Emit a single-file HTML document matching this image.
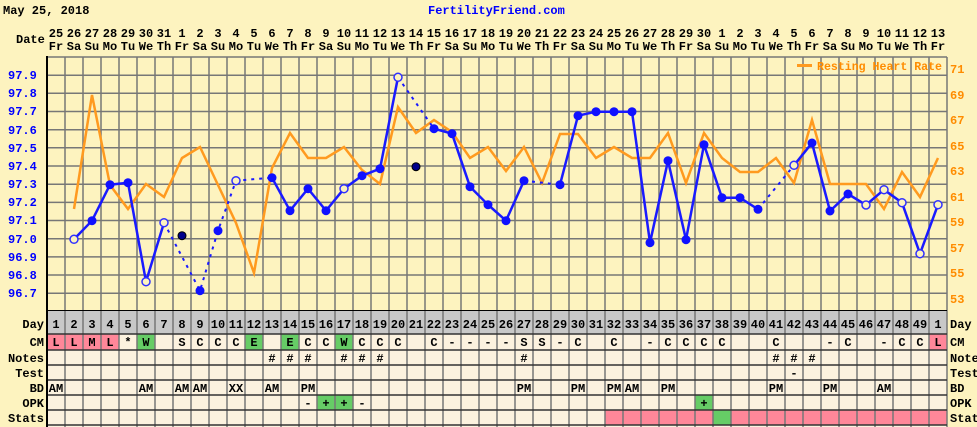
<!DOCTYPE html>
<html><head><meta charset="utf-8"><style>
html,body{margin:0;padding:0;background:#fdf3bf;}
svg{display:block;}
text{font-family:"Liberation Mono",monospace;font-weight:bold;font-size:12px;}
</style></head><body>
<svg width="977" height="427" viewBox="0 0 977 427" xmlns="http://www.w3.org/2000/svg">
<rect width="977" height="427" fill="#fdf3bf"/>
<text x="3" y="14" fill="#000">May 25, 2018</text>
<text x="428" y="14" fill="#0000ff">FertilityFriend.com</text>
<text x="16" y="43" fill="#000">Date</text>
<g fill="#000" text-anchor="middle">
<text x="56" y="37">25</text><text x="74" y="37">26</text><text x="92" y="37">27</text><text x="110" y="37">28</text><text x="128" y="37">29</text><text x="146" y="37">30</text><text x="164" y="37">31</text><text x="182" y="37">1</text><text x="200" y="37">2</text><text x="218" y="37">3</text><text x="236" y="37">4</text><text x="254" y="37">5</text><text x="272" y="37">6</text><text x="290" y="37">7</text><text x="308" y="37">8</text><text x="326" y="37">9</text><text x="344" y="37">10</text><text x="362" y="37">11</text><text x="380" y="37">12</text><text x="398" y="37">13</text><text x="416" y="37">14</text><text x="434" y="37">15</text><text x="452" y="37">16</text><text x="470" y="37">17</text><text x="488" y="37">18</text><text x="506" y="37">19</text><text x="524" y="37">20</text><text x="542" y="37">21</text><text x="560" y="37">22</text><text x="578" y="37">23</text><text x="596" y="37">24</text><text x="614" y="37">25</text><text x="632" y="37">26</text><text x="650" y="37">27</text><text x="668" y="37">28</text><text x="686" y="37">29</text><text x="704" y="37">30</text><text x="722" y="37">1</text><text x="740" y="37">2</text><text x="758" y="37">3</text><text x="776" y="37">4</text><text x="794" y="37">5</text><text x="812" y="37">6</text><text x="830" y="37">7</text><text x="848" y="37">8</text><text x="866" y="37">9</text><text x="884" y="37">10</text><text x="902" y="37">11</text><text x="920" y="37">12</text><text x="938" y="37">13</text>
<text x="56" y="50">Fr</text><text x="74" y="50">Sa</text><text x="92" y="50">Su</text><text x="110" y="50">Mo</text><text x="128" y="50">Tu</text><text x="146" y="50">We</text><text x="164" y="50">Th</text><text x="182" y="50">Fr</text><text x="200" y="50">Sa</text><text x="218" y="50">Su</text><text x="236" y="50">Mo</text><text x="254" y="50">Tu</text><text x="272" y="50">We</text><text x="290" y="50">Th</text><text x="308" y="50">Fr</text><text x="326" y="50">Sa</text><text x="344" y="50">Su</text><text x="362" y="50">Mo</text><text x="380" y="50">Tu</text><text x="398" y="50">We</text><text x="416" y="50">Th</text><text x="434" y="50">Fr</text><text x="452" y="50">Sa</text><text x="470" y="50">Su</text><text x="488" y="50">Mo</text><text x="506" y="50">Tu</text><text x="524" y="50">We</text><text x="542" y="50">Th</text><text x="560" y="50">Fr</text><text x="578" y="50">Sa</text><text x="596" y="50">Su</text><text x="614" y="50">Mo</text><text x="632" y="50">Tu</text><text x="650" y="50">We</text><text x="668" y="50">Th</text><text x="686" y="50">Fr</text><text x="704" y="50">Sa</text><text x="722" y="50">Su</text><text x="740" y="50">Mo</text><text x="758" y="50">Tu</text><text x="776" y="50">We</text><text x="794" y="50">Th</text><text x="812" y="50">Fr</text><text x="830" y="50">Sa</text><text x="848" y="50">Su</text><text x="866" y="50">Mo</text><text x="884" y="50">Tu</text><text x="902" y="50">We</text><text x="920" y="50">Th</text><text x="938" y="50">Fr</text>
</g>
<!-- grid -->
<g stroke="#777" stroke-width="1.5">
<line x1="47" y1="57" x2="947" y2="57"/><line x1="47" y1="75.2" x2="947" y2="75.2"/><line x1="47" y1="93.3" x2="947" y2="93.3"/><line x1="47" y1="111.5" x2="947" y2="111.5"/><line x1="47" y1="129.7" x2="947" y2="129.7"/><line x1="47" y1="147.8" x2="947" y2="147.8"/><line x1="47" y1="166" x2="947" y2="166"/><line x1="47" y1="184.2" x2="947" y2="184.2"/><line x1="47" y1="202.4" x2="947" y2="202.4"/><line x1="47" y1="220.5" x2="947" y2="220.5"/><line x1="47" y1="238.7" x2="947" y2="238.7"/><line x1="47" y1="256.9" x2="947" y2="256.9"/><line x1="47" y1="275" x2="947" y2="275"/><line x1="47" y1="293.2" x2="947" y2="293.2"/>
<line x1="65" y1="57" x2="65" y2="311"/><line x1="83" y1="57" x2="83" y2="311"/><line x1="101" y1="57" x2="101" y2="311"/><line x1="119" y1="57" x2="119" y2="311"/><line x1="137" y1="57" x2="137" y2="311"/><line x1="155" y1="57" x2="155" y2="311"/><line x1="173" y1="57" x2="173" y2="311"/><line x1="191" y1="57" x2="191" y2="311"/><line x1="209" y1="57" x2="209" y2="311"/><line x1="227" y1="57" x2="227" y2="311"/><line x1="245" y1="57" x2="245" y2="311"/><line x1="263" y1="57" x2="263" y2="311"/><line x1="281" y1="57" x2="281" y2="311"/><line x1="299" y1="57" x2="299" y2="311"/><line x1="317" y1="57" x2="317" y2="311"/><line x1="335" y1="57" x2="335" y2="311"/><line x1="353" y1="57" x2="353" y2="311"/><line x1="371" y1="57" x2="371" y2="311"/><line x1="389" y1="57" x2="389" y2="311"/><line x1="407" y1="57" x2="407" y2="311"/><line x1="425" y1="57" x2="425" y2="311"/><line x1="443" y1="57" x2="443" y2="311"/><line x1="461" y1="57" x2="461" y2="311"/><line x1="479" y1="57" x2="479" y2="311"/><line x1="497" y1="57" x2="497" y2="311"/><line x1="515" y1="57" x2="515" y2="311"/><line x1="533" y1="57" x2="533" y2="311"/><line x1="551" y1="57" x2="551" y2="311"/><line x1="569" y1="57" x2="569" y2="311"/><line x1="587" y1="57" x2="587" y2="311"/><line x1="605" y1="57" x2="605" y2="311"/><line x1="623" y1="57" x2="623" y2="311"/><line x1="641" y1="57" x2="641" y2="311"/><line x1="659" y1="57" x2="659" y2="311"/><line x1="677" y1="57" x2="677" y2="311"/><line x1="695" y1="57" x2="695" y2="311"/><line x1="713" y1="57" x2="713" y2="311"/><line x1="731" y1="57" x2="731" y2="311"/><line x1="749" y1="57" x2="749" y2="311"/><line x1="767" y1="57" x2="767" y2="311"/><line x1="785" y1="57" x2="785" y2="311"/><line x1="803" y1="57" x2="803" y2="311"/><line x1="821" y1="57" x2="821" y2="311"/><line x1="839" y1="57" x2="839" y2="311"/><line x1="857" y1="57" x2="857" y2="311"/><line x1="875" y1="57" x2="875" y2="311"/><line x1="893" y1="57" x2="893" y2="311"/><line x1="911" y1="57" x2="911" y2="311"/><line x1="929" y1="57" x2="929" y2="311"/><line x1="947" y1="57" x2="947" y2="311"/>
</g>
<line x1="47" y1="56" x2="47" y2="311" stroke="#000" stroke-width="2"/>
<line x1="46" y1="311" x2="947" y2="311" stroke="#000" stroke-width="2"/>
<!-- left labels -->
<g fill="#0000ff">
<text x="8" y="79">97.9</text><text x="8" y="97">97.8</text><text x="8" y="115">97.7</text><text x="8" y="134">97.6</text><text x="8" y="152">97.5</text><text x="8" y="170">97.4</text><text x="8" y="188">97.3</text><text x="8" y="206">97.2</text><text x="8" y="224">97.1</text><text x="8" y="243">97.0</text><text x="8" y="261">96.9</text><text x="8" y="279">96.8</text><text x="8" y="297">96.7</text>
</g>
<g fill="#ff8c00">
<text x="950" y="73">71</text><text x="950" y="99">69</text><text x="950" y="124">67</text><text x="950" y="150">65</text><text x="950" y="175">63</text><text x="950" y="201">61</text><text x="950" y="226">59</text><text x="950" y="252">57</text><text x="950" y="277">55</text><text x="950" y="303">53</text>
<text x="817" y="70" textLength="125" lengthAdjust="spacingAndGlyphs">Resting Heart Rate</text>
</g>
<line x1="797" y1="65.5" x2="812" y2="65.5" stroke="#ff9a1f" stroke-width="3"/>
<!-- orange -->
<polyline fill="none" stroke="#ff9a1f" stroke-width="2.5" points="74,209 92,95 110,185 128,209 146,184 164,197 182,158 200,147 218,185 236,223 254,273 272,168 290,133 308,158 326,158 344,147 362,170 380,184 398,107 416,133 434,120 452,132 470,158 488,147 506,171 524,147 542,183 560,134 578,134 596,158 614,147 632,158 650,158 668,133 686,183 704,133 722,158 740,172 758,172 776,158 794,183 812,120 830,184 848,184 866,184 884,209 902,172 920,197 938,158"/>
<!-- blue -->
<g fill="none" stroke="#1a1aff" stroke-width="2.5">
<polyline points="74,239.3 92,220.7 110,184.7 128,182.7 146,281.7 164,222.7"/>
<polyline points="272,177.7 290,210.7 308,188.7 326,210.7 344,188.7 362,175.7 380,168.7 398,77.3"/>
<polyline points="434,128.7 452,133.7 470,186.7 488,204.7 506,220.7 524,180.7"/>
<polyline points="560,184.7 578,115.7 596,111.7 614,111.7 632,111.7 650,242.7 668,160.7 686,239.7 704,144.7 722,197.7 740,197.7 758,209.3"/>
<polyline points="794,165.3 812,143 830,211 848,194 866,205 884,189.7 902,202.7 920,253.7 938,204.7"/>
</g>
<g fill="none" stroke="#1a1aff" stroke-width="2" stroke-dasharray="3,5">
<polyline points="164,222.7 200,290.7 218,230.7 236,180.7 272,177.7"/>
<line x1="398" y1="77.3" x2="434" y2="128.7"/>
<line x1="524" y1="180.7" x2="560" y2="184.7"/>
<line x1="758" y1="209.3" x2="794" y2="165.3"/>
</g>
<g fill="#1010ff">
<circle cx="92" cy="220.7" r="4.5"/><circle cx="110" cy="184.7" r="4.5"/><circle cx="128" cy="182.7" r="4.5"/><circle cx="200" cy="290.7" r="4.5"/><circle cx="218" cy="230.7" r="4.5"/><circle cx="272" cy="177.7" r="4.5"/><circle cx="290" cy="210.7" r="4.5"/><circle cx="308" cy="188.7" r="4.5"/><circle cx="326" cy="210.7" r="4.5"/><circle cx="362" cy="175.7" r="4.5"/><circle cx="380" cy="168.7" r="4.5"/><circle cx="434" cy="128.7" r="4.5"/><circle cx="452" cy="133.7" r="4.5"/><circle cx="470" cy="186.7" r="4.5"/><circle cx="488" cy="204.7" r="4.5"/><circle cx="506" cy="220.7" r="4.5"/><circle cx="524" cy="180.7" r="4.5"/><circle cx="560" cy="184.7" r="4.5"/><circle cx="578" cy="115.7" r="4.5"/><circle cx="596" cy="111.7" r="4.5"/><circle cx="614" cy="111.7" r="4.5"/><circle cx="632" cy="111.7" r="4.5"/><circle cx="650" cy="242.7" r="4.5"/><circle cx="668" cy="160.7" r="4.5"/><circle cx="686" cy="239.7" r="4.5"/><circle cx="704" cy="144.7" r="4.5"/><circle cx="722" cy="197.7" r="4.5"/><circle cx="740" cy="197.7" r="4.5"/><circle cx="758" cy="209.3" r="4.5"/><circle cx="812" cy="143" r="4.5"/><circle cx="830" cy="211" r="4.5"/><circle cx="848" cy="194" r="4.5"/>
</g>
<g fill="#fdf3bf" stroke="#3030ff" stroke-width="1.5">
<circle cx="74" cy="239.3" r="4"/><circle cx="146" cy="281.7" r="4"/><circle cx="164" cy="222.7" r="4"/><circle cx="236" cy="180.7" r="4"/><circle cx="344" cy="188.7" r="4"/><circle cx="398" cy="77.3" r="4"/><circle cx="794" cy="165.3" r="4"/><circle cx="866" cy="205" r="4"/><circle cx="884" cy="189.7" r="4"/><circle cx="902" cy="202.7" r="4"/><circle cx="920" cy="253.7" r="4"/><circle cx="938" cy="204.7" r="4"/>
</g>
<g fill="#00008b" stroke="#000" stroke-width="1"><circle cx="182" cy="235.7" r="4"/><circle cx="416" cy="166.7" r="4"/></g>
<!-- table -->
<rect x="47" y="311" width="900" height="23" fill="#c8c8c8"/>
<rect x="47" y="334" width="900" height="93" fill="#fcf2df"/>
<g fill="#ff8799">
<rect x="47" y="334" width="72" height="16"/><rect x="929" y="334" width="18" height="16"/>
<rect x="605" y="410" width="108" height="15"/><rect x="731" y="410" width="216" height="15"/>
</g>
<g fill="#66cc66">
<rect x="137" y="334" width="18" height="16"/><rect x="245" y="334" width="18" height="16"/><rect x="281" y="334" width="18" height="16"/><rect x="335" y="334" width="18" height="16"/>
<rect x="317" y="395" width="36" height="15"/><rect x="695" y="395" width="18" height="15"/><rect x="713" y="410" width="18" height="15"/>
</g>
<g stroke="#777" stroke-width="1.5">
<line x1="65" y1="311" x2="65" y2="427"/><line x1="83" y1="311" x2="83" y2="427"/><line x1="101" y1="311" x2="101" y2="427"/><line x1="119" y1="311" x2="119" y2="427"/><line x1="137" y1="311" x2="137" y2="427"/><line x1="155" y1="311" x2="155" y2="427"/><line x1="173" y1="311" x2="173" y2="427"/><line x1="191" y1="311" x2="191" y2="427"/><line x1="209" y1="311" x2="209" y2="427"/><line x1="227" y1="311" x2="227" y2="427"/><line x1="245" y1="311" x2="245" y2="427"/><line x1="263" y1="311" x2="263" y2="427"/><line x1="281" y1="311" x2="281" y2="427"/><line x1="299" y1="311" x2="299" y2="427"/><line x1="317" y1="311" x2="317" y2="427"/><line x1="335" y1="311" x2="335" y2="427"/><line x1="353" y1="311" x2="353" y2="427"/><line x1="371" y1="311" x2="371" y2="427"/><line x1="389" y1="311" x2="389" y2="427"/><line x1="407" y1="311" x2="407" y2="427"/><line x1="425" y1="311" x2="425" y2="427"/><line x1="443" y1="311" x2="443" y2="427"/><line x1="461" y1="311" x2="461" y2="427"/><line x1="479" y1="311" x2="479" y2="427"/><line x1="497" y1="311" x2="497" y2="427"/><line x1="515" y1="311" x2="515" y2="427"/><line x1="533" y1="311" x2="533" y2="427"/><line x1="551" y1="311" x2="551" y2="427"/><line x1="569" y1="311" x2="569" y2="427"/><line x1="587" y1="311" x2="587" y2="427"/><line x1="605" y1="311" x2="605" y2="427"/><line x1="623" y1="311" x2="623" y2="427"/><line x1="641" y1="311" x2="641" y2="427"/><line x1="659" y1="311" x2="659" y2="427"/><line x1="677" y1="311" x2="677" y2="427"/><line x1="695" y1="311" x2="695" y2="427"/><line x1="713" y1="311" x2="713" y2="427"/><line x1="731" y1="311" x2="731" y2="427"/><line x1="749" y1="311" x2="749" y2="427"/><line x1="767" y1="311" x2="767" y2="427"/><line x1="785" y1="311" x2="785" y2="427"/><line x1="803" y1="311" x2="803" y2="427"/><line x1="821" y1="311" x2="821" y2="427"/><line x1="839" y1="311" x2="839" y2="427"/><line x1="857" y1="311" x2="857" y2="427"/><line x1="875" y1="311" x2="875" y2="427"/><line x1="893" y1="311" x2="893" y2="427"/><line x1="911" y1="311" x2="911" y2="427"/><line x1="929" y1="311" x2="929" y2="427"/><line x1="947" y1="311" x2="947" y2="427"/>
</g>
<g stroke="#333" stroke-width="1.5">
<line x1="47" y1="334" x2="947" y2="334"/><line x1="47" y1="350" x2="947" y2="350"/><line x1="47" y1="365" x2="947" y2="365"/><line x1="47" y1="380" x2="947" y2="380"/><line x1="47" y1="395" x2="947" y2="395"/><line x1="47" y1="410" x2="947" y2="410"/><line x1="47" y1="425" x2="947" y2="425"/>
</g>
<line x1="47" y1="311" x2="47" y2="427" stroke="#000" stroke-width="2"/>
<g fill="#000" text-anchor="end">
<text x="44" y="328">Day</text><text x="44" y="346">CM</text><text x="44" y="362">Notes</text><text x="44" y="377">Test</text><text x="44" y="392">BD</text><text x="44" y="407">OPK</text><text x="44" y="422">Stats</text>
</g>
<g fill="#000">
<text x="950" y="328">Day</text><text x="950" y="346">CM</text><text x="950" y="362">Notes</text><text x="950" y="377">Test</text><text x="950" y="392">BD</text><text x="950" y="407">OPK</text><text x="950" y="422">Stats</text>
</g>
<g fill="#000" text-anchor="middle">
<text x="56" y="328">1</text><text x="74" y="328">2</text><text x="92" y="328">3</text><text x="110" y="328">4</text><text x="128" y="328">5</text><text x="146" y="328">6</text><text x="164" y="328">7</text><text x="182" y="328">8</text><text x="200" y="328">9</text><text x="218" y="328">10</text><text x="236" y="328">11</text><text x="254" y="328">12</text><text x="272" y="328">13</text><text x="290" y="328">14</text><text x="308" y="328">15</text><text x="326" y="328">16</text><text x="344" y="328">17</text><text x="362" y="328">18</text><text x="380" y="328">19</text><text x="398" y="328">20</text><text x="416" y="328">21</text><text x="434" y="328">22</text><text x="452" y="328">23</text><text x="470" y="328">24</text><text x="488" y="328">25</text><text x="506" y="328">26</text><text x="524" y="328">27</text><text x="542" y="328">28</text><text x="560" y="328">29</text><text x="578" y="328">30</text><text x="596" y="328">31</text><text x="614" y="328">32</text><text x="632" y="328">33</text><text x="650" y="328">34</text><text x="668" y="328">35</text><text x="686" y="328">36</text><text x="704" y="328">37</text><text x="722" y="328">38</text><text x="740" y="328">39</text><text x="758" y="328">40</text><text x="776" y="328">41</text><text x="794" y="328">42</text><text x="812" y="328">43</text><text x="830" y="328">44</text><text x="848" y="328">45</text><text x="866" y="328">46</text><text x="884" y="328">47</text><text x="902" y="328">48</text><text x="920" y="328">49</text><text x="938" y="328">1</text>
<!-- CM -->
<text x="56" y="346">L</text><text x="74" y="346">L</text><text x="92" y="346">M</text><text x="110" y="346">L</text><text x="128" y="346">*</text><text x="146" y="346">W</text><text x="182" y="346">S</text><text x="200" y="346">C</text><text x="218" y="346">C</text><text x="236" y="346">C</text><text x="254" y="346">E</text><text x="290" y="346">E</text><text x="308" y="346">C</text><text x="326" y="346">C</text><text x="344" y="346">W</text><text x="362" y="346">C</text><text x="380" y="346">C</text><text x="398" y="346">C</text><text x="434" y="346">C</text><text x="452" y="346">-</text><text x="470" y="346">-</text><text x="488" y="346">-</text><text x="506" y="346">-</text><text x="524" y="346">S</text><text x="542" y="346">S</text><text x="560" y="346">-</text><text x="578" y="346">C</text><text x="614" y="346">C</text><text x="650" y="346">-</text><text x="668" y="346">C</text><text x="686" y="346">C</text><text x="704" y="346">C</text><text x="722" y="346">C</text><text x="776" y="346">C</text><text x="830" y="346">-</text><text x="848" y="346">C</text><text x="884" y="346">-</text><text x="902" y="346">C</text><text x="920" y="346">C</text><text x="938" y="346">L</text>
<!-- Notes -->
<text x="272" y="362">#</text><text x="290" y="362">#</text><text x="308" y="362">#</text><text x="344" y="362">#</text><text x="362" y="362">#</text><text x="380" y="362">#</text><text x="524" y="362">#</text><text x="776" y="362">#</text><text x="794" y="362">#</text><text x="812" y="362">#</text>
<text x="794" y="377">-</text>
<!-- BD -->
<text x="56" y="392">AM</text><text x="146" y="392">AM</text><text x="182" y="392">AM</text><text x="200" y="392">AM</text><text x="236" y="392">XX</text><text x="272" y="392">AM</text><text x="308" y="392">PM</text><text x="524" y="392">PM</text><text x="578" y="392">PM</text><text x="614" y="392">PM</text><text x="632" y="392">AM</text><text x="668" y="392">PM</text><text x="776" y="392">PM</text><text x="830" y="392">PM</text><text x="884" y="392">AM</text>
<!-- OPK -->
<text x="308" y="407">-</text><text x="326" y="407">+</text><text x="344" y="407">+</text><text x="362" y="407">-</text><text x="704" y="407">+</text>
</g>
</svg>
</body></html>
